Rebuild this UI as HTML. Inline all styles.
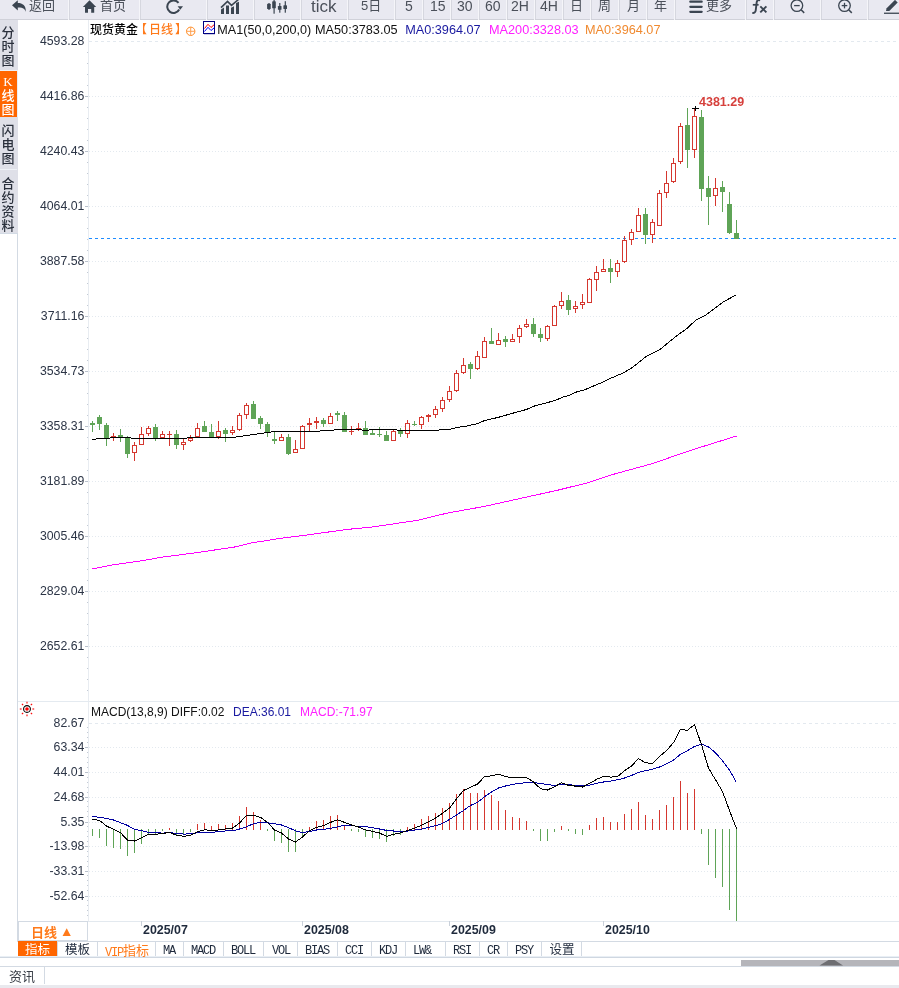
<!DOCTYPE html>
<html><head><meta charset="utf-8"><title>现货黄金 日线</title>
<style>
html,body{margin:0;padding:0;background:#fff;}
body{position:relative;width:899px;height:988px;overflow:hidden;font-family:"Liberation Sans","Noto Sans CJK SC",sans-serif;}
.a{position:absolute;white-space:nowrap;line-height:1;}
.v{font-size:13px;line-height:14px;font-weight:500;font-family:"Liberation Serif","Noto Sans CJK SC",serif;}
.m{font-family:"Liberation Mono","Noto Sans CJK SC",monospace;font-size:12px;letter-spacing:-1.2px;}
.m2{font-family:"Liberation Mono",monospace;font-size:12px;letter-spacing:-1.2px;}
</style></head><body>
<svg width="899" height="988" viewBox="0 0 899 988" style="position:absolute;left:0;top:0" shape-rendering="crispEdges"><rect x="0" y="0" width="899" height="19" fill="#e9e9f1"/><rect x="0" y="19" width="899" height="1" fill="#d0d1d9"/><rect x="68" y="0" width="1" height="20" fill="#f5f5f9"/><rect x="69" y="0" width="1" height="19" fill="#d6d7df"/><rect x="139" y="0" width="1" height="20" fill="#f5f5f9"/><rect x="140" y="0" width="1" height="19" fill="#d6d7df"/><rect x="206" y="0" width="1" height="20" fill="#f5f5f9"/><rect x="207" y="0" width="1" height="19" fill="#d6d7df"/><rect x="253" y="0" width="1" height="20" fill="#f5f5f9"/><rect x="254" y="0" width="1" height="19" fill="#d6d7df"/><rect x="300" y="0" width="1" height="20" fill="#f5f5f9"/><rect x="301" y="0" width="1" height="19" fill="#d6d7df"/><rect x="347" y="0" width="1" height="20" fill="#f5f5f9"/><rect x="348" y="0" width="1" height="19" fill="#d6d7df"/><rect x="394" y="0" width="1" height="20" fill="#f5f5f9"/><rect x="395" y="0" width="1" height="19" fill="#d6d7df"/><rect x="422" y="0" width="1" height="20" fill="#f5f5f9"/><rect x="423" y="0" width="1" height="19" fill="#d6d7df"/><rect x="450" y="0" width="1" height="20" fill="#f5f5f9"/><rect x="451" y="0" width="1" height="19" fill="#d6d7df"/><rect x="478" y="0" width="1" height="20" fill="#f5f5f9"/><rect x="479" y="0" width="1" height="19" fill="#d6d7df"/><rect x="506" y="0" width="1" height="20" fill="#f5f5f9"/><rect x="507" y="0" width="1" height="19" fill="#d6d7df"/><rect x="534" y="0" width="1" height="20" fill="#f5f5f9"/><rect x="535" y="0" width="1" height="19" fill="#d6d7df"/><rect x="562" y="0" width="1" height="20" fill="#f5f5f9"/><rect x="563" y="0" width="1" height="19" fill="#d6d7df"/><rect x="590" y="0" width="1" height="20" fill="#f5f5f9"/><rect x="591" y="0" width="1" height="19" fill="#d6d7df"/><rect x="618" y="0" width="1" height="20" fill="#f5f5f9"/><rect x="619" y="0" width="1" height="19" fill="#d6d7df"/><rect x="646" y="0" width="1" height="20" fill="#f5f5f9"/><rect x="647" y="0" width="1" height="19" fill="#d6d7df"/><rect x="674" y="0" width="1" height="20" fill="#f5f5f9"/><rect x="675" y="0" width="1" height="19" fill="#d6d7df"/><rect x="745" y="0" width="1" height="20" fill="#f5f5f9"/><rect x="746" y="0" width="1" height="19" fill="#d6d7df"/><rect x="773" y="0" width="1" height="20" fill="#f5f5f9"/><rect x="774" y="0" width="1" height="19" fill="#d6d7df"/><rect x="820" y="0" width="1" height="20" fill="#f5f5f9"/><rect x="821" y="0" width="1" height="19" fill="#d6d7df"/><rect x="867" y="0" width="1" height="20" fill="#f5f5f9"/><rect x="868" y="0" width="1" height="19" fill="#d6d7df"/><rect x="0" y="20" width="18" height="214" fill="#dfe0e8"/><rect x="0" y="70" width="18" height="1" fill="#eef1f6"/><rect x="0" y="71" width="17" height="46" fill="#ff6600"/><rect x="17" y="71" width="1" height="46" fill="#e8eef6"/><rect x="0" y="169" width="17" height="1" fill="#eef1f6"/><rect x="0" y="233" width="18" height="1" fill="#d3dbe5"/><rect x="17" y="234" width="1" height="707" fill="#d3dae3"/><rect x="88" y="20" width="1" height="901" fill="#e8ecf1"/><line x1="89" y1="41.5" x2="899" y2="41.5" stroke="#e3e9ef" stroke-width="1" stroke-dasharray="3 3"/><rect x="85" y="96" width="3" height="1" fill="#b9c1cc"/><line x1="89" y1="96.5" x2="899" y2="96.5" stroke="#e3e9ef" stroke-width="1" stroke-dasharray="1 2"/><rect x="85" y="151" width="3" height="1" fill="#b9c1cc"/><line x1="89" y1="151.5" x2="899" y2="151.5" stroke="#e3e9ef" stroke-width="1" stroke-dasharray="1 2"/><rect x="85" y="206" width="3" height="1" fill="#b9c1cc"/><line x1="89" y1="206.5" x2="899" y2="206.5" stroke="#e3e9ef" stroke-width="1" stroke-dasharray="1 2"/><rect x="85" y="261" width="3" height="1" fill="#b9c1cc"/><line x1="89" y1="261.5" x2="899" y2="261.5" stroke="#e3e9ef" stroke-width="1" stroke-dasharray="1 2"/><rect x="85" y="316" width="3" height="1" fill="#b9c1cc"/><line x1="89" y1="316.5" x2="899" y2="316.5" stroke="#e3e9ef" stroke-width="1" stroke-dasharray="1 2"/><rect x="85" y="371" width="3" height="1" fill="#b9c1cc"/><line x1="89" y1="371.5" x2="899" y2="371.5" stroke="#e3e9ef" stroke-width="1" stroke-dasharray="1 2"/><rect x="85" y="426" width="3" height="1" fill="#b9c1cc"/><line x1="89" y1="426.5" x2="899" y2="426.5" stroke="#e3e9ef" stroke-width="1" stroke-dasharray="1 2"/><rect x="85" y="481" width="3" height="1" fill="#b9c1cc"/><line x1="89" y1="481.5" x2="899" y2="481.5" stroke="#e3e9ef" stroke-width="1" stroke-dasharray="1 2"/><rect x="85" y="536" width="3" height="1" fill="#b9c1cc"/><line x1="89" y1="536.5" x2="899" y2="536.5" stroke="#e3e9ef" stroke-width="1" stroke-dasharray="1 2"/><rect x="85" y="591" width="3" height="1" fill="#b9c1cc"/><line x1="89" y1="591.5" x2="899" y2="591.5" stroke="#e3e9ef" stroke-width="1" stroke-dasharray="1 2"/><rect x="85" y="646" width="3" height="1" fill="#b9c1cc"/><line x1="89" y1="646.5" x2="899" y2="646.5" stroke="#e3e9ef" stroke-width="1" stroke-dasharray="1 2"/><rect x="87" y="52" width="1" height="1" fill="#c3cad4"/><rect x="87" y="63" width="1" height="1" fill="#c3cad4"/><rect x="87" y="74" width="1" height="1" fill="#c3cad4"/><rect x="87" y="85" width="1" height="1" fill="#c3cad4"/><rect x="87" y="107" width="1" height="1" fill="#c3cad4"/><rect x="87" y="118" width="1" height="1" fill="#c3cad4"/><rect x="87" y="129" width="1" height="1" fill="#c3cad4"/><rect x="87" y="140" width="1" height="1" fill="#c3cad4"/><rect x="87" y="162" width="1" height="1" fill="#c3cad4"/><rect x="87" y="173" width="1" height="1" fill="#c3cad4"/><rect x="87" y="184" width="1" height="1" fill="#c3cad4"/><rect x="87" y="195" width="1" height="1" fill="#c3cad4"/><rect x="87" y="217" width="1" height="1" fill="#c3cad4"/><rect x="87" y="228" width="1" height="1" fill="#c3cad4"/><rect x="87" y="239" width="1" height="1" fill="#c3cad4"/><rect x="87" y="250" width="1" height="1" fill="#c3cad4"/><rect x="87" y="272" width="1" height="1" fill="#c3cad4"/><rect x="87" y="283" width="1" height="1" fill="#c3cad4"/><rect x="87" y="294" width="1" height="1" fill="#c3cad4"/><rect x="87" y="305" width="1" height="1" fill="#c3cad4"/><rect x="87" y="327" width="1" height="1" fill="#c3cad4"/><rect x="87" y="338" width="1" height="1" fill="#c3cad4"/><rect x="87" y="349" width="1" height="1" fill="#c3cad4"/><rect x="87" y="360" width="1" height="1" fill="#c3cad4"/><rect x="87" y="382" width="1" height="1" fill="#c3cad4"/><rect x="87" y="393" width="1" height="1" fill="#c3cad4"/><rect x="87" y="404" width="1" height="1" fill="#c3cad4"/><rect x="87" y="415" width="1" height="1" fill="#c3cad4"/><rect x="87" y="437" width="1" height="1" fill="#c3cad4"/><rect x="87" y="448" width="1" height="1" fill="#c3cad4"/><rect x="87" y="459" width="1" height="1" fill="#c3cad4"/><rect x="87" y="470" width="1" height="1" fill="#c3cad4"/><rect x="87" y="492" width="1" height="1" fill="#c3cad4"/><rect x="87" y="503" width="1" height="1" fill="#c3cad4"/><rect x="87" y="514" width="1" height="1" fill="#c3cad4"/><rect x="87" y="525" width="1" height="1" fill="#c3cad4"/><rect x="87" y="547" width="1" height="1" fill="#c3cad4"/><rect x="87" y="558" width="1" height="1" fill="#c3cad4"/><rect x="87" y="569" width="1" height="1" fill="#c3cad4"/><rect x="87" y="580" width="1" height="1" fill="#c3cad4"/><rect x="87" y="602" width="1" height="1" fill="#c3cad4"/><rect x="87" y="613" width="1" height="1" fill="#c3cad4"/><rect x="87" y="624" width="1" height="1" fill="#c3cad4"/><rect x="87" y="635" width="1" height="1" fill="#c3cad4"/><rect x="87" y="657" width="1" height="1" fill="#c3cad4"/><rect x="87" y="668" width="1" height="1" fill="#c3cad4"/><rect x="87" y="679" width="1" height="1" fill="#c3cad4"/><rect x="87" y="690" width="1" height="1" fill="#c3cad4"/><line x1="89" y1="238.5" x2="899" y2="238.5" stroke="#1e8cff" stroke-width="1" stroke-dasharray="3 3"/><rect x="92" y="421" width="1" height="11" fill="#5fa457"/><rect x="90" y="423" width="5" height="2" fill="#5fa457"/><rect x="99" y="415" width="1" height="15" fill="#5fa457"/><rect x="97" y="417" width="5" height="7" fill="#5fa457"/><rect x="106" y="423" width="1" height="23" fill="#5fa457"/><rect x="104" y="425" width="5" height="13" fill="#5fa457"/><rect x="113" y="433" width="1" height="3" fill="#d5372f"/><rect x="113" y="438" width="1" height="3" fill="#d5372f"/><rect x="111" y="436" width="5" height="2" fill="#d5372f"/><rect x="120" y="429" width="1" height="13" fill="#5fa457"/><rect x="118" y="435" width="5" height="2" fill="#5fa457"/><rect x="127" y="436" width="1" height="22" fill="#5fa457"/><rect x="125" y="437" width="5" height="17" fill="#5fa457"/><rect x="134" y="442" width="1" height="3" fill="#d5372f"/><rect x="134" y="453" width="1" height="8" fill="#d5372f"/><rect x="132" y="445" width="5" height="8" fill="#d5372f"/><rect x="133" y="446" width="3" height="6" fill="#fff"/><rect x="141" y="427" width="1" height="7" fill="#d5372f"/><rect x="139" y="434" width="5" height="11" fill="#d5372f"/><rect x="140" y="435" width="3" height="9" fill="#fff"/><rect x="148" y="426" width="1" height="2" fill="#d5372f"/><rect x="148" y="434" width="1" height="2" fill="#d5372f"/><rect x="146" y="428" width="5" height="6" fill="#d5372f"/><rect x="147" y="429" width="3" height="4" fill="#fff"/><rect x="155" y="424" width="1" height="17" fill="#5fa457"/><rect x="153" y="427" width="5" height="11" fill="#5fa457"/><rect x="162" y="431" width="1" height="3" fill="#d5372f"/><rect x="160" y="434" width="5" height="4" fill="#d5372f"/><rect x="161" y="435" width="3" height="2" fill="#fff"/><rect x="169" y="431" width="1" height="3" fill="#d5372f"/><rect x="169" y="435" width="1" height="11" fill="#d5372f"/><rect x="167" y="434" width="5" height="1" fill="#d5372f"/><rect x="176" y="430" width="1" height="19" fill="#5fa457"/><rect x="174" y="434" width="5" height="11" fill="#5fa457"/><rect x="183" y="439" width="1" height="3" fill="#d5372f"/><rect x="183" y="445" width="1" height="5" fill="#d5372f"/><rect x="181" y="442" width="5" height="3" fill="#d5372f"/><rect x="182" y="443" width="3" height="1" fill="#fff"/><rect x="190" y="435" width="1" height="3" fill="#d5372f"/><rect x="190" y="441" width="1" height="1" fill="#d5372f"/><rect x="188" y="438" width="5" height="3" fill="#d5372f"/><rect x="189" y="439" width="3" height="1" fill="#fff"/><rect x="197" y="423" width="1" height="5" fill="#d5372f"/><rect x="195" y="428" width="5" height="9" fill="#d5372f"/><rect x="196" y="429" width="3" height="7" fill="#fff"/><rect x="204" y="421" width="1" height="11" fill="#5fa457"/><rect x="202" y="426" width="5" height="6" fill="#5fa457"/><rect x="211" y="424" width="1" height="13" fill="#5fa457"/><rect x="209" y="432" width="5" height="5" fill="#5fa457"/><rect x="218" y="421" width="1" height="10" fill="#d5372f"/><rect x="218" y="437" width="1" height="2" fill="#d5372f"/><rect x="216" y="431" width="5" height="6" fill="#d5372f"/><rect x="217" y="432" width="3" height="4" fill="#fff"/><rect x="225" y="428" width="1" height="14" fill="#5fa457"/><rect x="223" y="430" width="5" height="4" fill="#5fa457"/><rect x="232" y="426" width="1" height="4" fill="#d5372f"/><rect x="232" y="433" width="1" height="2" fill="#d5372f"/><rect x="230" y="430" width="5" height="3" fill="#d5372f"/><rect x="231" y="431" width="3" height="1" fill="#fff"/><rect x="239" y="413" width="1" height="2" fill="#d5372f"/><rect x="239" y="430" width="1" height="1" fill="#d5372f"/><rect x="237" y="415" width="5" height="15" fill="#d5372f"/><rect x="238" y="416" width="3" height="13" fill="#fff"/><rect x="246" y="403" width="1" height="2" fill="#d5372f"/><rect x="246" y="415" width="1" height="4" fill="#d5372f"/><rect x="244" y="405" width="5" height="10" fill="#d5372f"/><rect x="245" y="406" width="3" height="8" fill="#fff"/><rect x="253" y="401" width="1" height="18" fill="#5fa457"/><rect x="251" y="404" width="5" height="15" fill="#5fa457"/><rect x="260" y="416" width="1" height="13" fill="#5fa457"/><rect x="258" y="418" width="5" height="6" fill="#5fa457"/><rect x="267" y="422" width="1" height="15" fill="#5fa457"/><rect x="265" y="424" width="5" height="9" fill="#5fa457"/><rect x="274" y="431" width="1" height="13" fill="#5fa457"/><rect x="272" y="439" width="5" height="2" fill="#5fa457"/><rect x="281" y="434" width="1" height="3" fill="#d5372f"/><rect x="279" y="437" width="5" height="4" fill="#d5372f"/><rect x="280" y="438" width="3" height="2" fill="#fff"/><rect x="288" y="434" width="1" height="21" fill="#5fa457"/><rect x="286" y="437" width="5" height="17" fill="#5fa457"/><rect x="295" y="440" width="1" height="9" fill="#d5372f"/><rect x="293" y="449" width="5" height="4" fill="#d5372f"/><rect x="294" y="450" width="3" height="2" fill="#fff"/><rect x="302" y="425" width="1" height="1" fill="#d5372f"/><rect x="300" y="426" width="5" height="23" fill="#d5372f"/><rect x="301" y="427" width="3" height="21" fill="#fff"/><rect x="309" y="418" width="1" height="5" fill="#d5372f"/><rect x="309" y="425" width="1" height="6" fill="#d5372f"/><rect x="307" y="423" width="5" height="2" fill="#d5372f"/><rect x="316" y="417" width="1" height="4" fill="#d5372f"/><rect x="316" y="423" width="1" height="6" fill="#d5372f"/><rect x="314" y="421" width="5" height="2" fill="#d5372f"/><rect x="323" y="418" width="1" height="9" fill="#5fa457"/><rect x="321" y="420" width="5" height="4" fill="#5fa457"/><rect x="330" y="413" width="1" height="3" fill="#d5372f"/><rect x="328" y="416" width="5" height="8" fill="#d5372f"/><rect x="329" y="417" width="3" height="6" fill="#fff"/><rect x="337" y="411" width="1" height="10" fill="#5fa457"/><rect x="335" y="413" width="5" height="2" fill="#5fa457"/><rect x="344" y="412" width="1" height="20" fill="#5fa457"/><rect x="342" y="415" width="5" height="17" fill="#5fa457"/><rect x="351" y="426" width="1" height="5" fill="#d5372f"/><rect x="351" y="432" width="1" height="3" fill="#d5372f"/><rect x="349" y="431" width="5" height="1" fill="#d5372f"/><rect x="358" y="423" width="1" height="5" fill="#d5372f"/><rect x="358" y="429" width="1" height="2" fill="#d5372f"/><rect x="356" y="428" width="5" height="1" fill="#d5372f"/><rect x="365" y="421" width="1" height="14" fill="#5fa457"/><rect x="363" y="428" width="5" height="7" fill="#5fa457"/><rect x="372" y="430" width="1" height="5" fill="#5fa457"/><rect x="370" y="433" width="5" height="2" fill="#5fa457"/><rect x="379" y="427" width="1" height="10" fill="#5fa457"/><rect x="377" y="434" width="5" height="1" fill="#5fa457"/><rect x="386" y="431" width="1" height="10" fill="#5fa457"/><rect x="384" y="435" width="5" height="6" fill="#5fa457"/><rect x="393" y="430" width="1" height="1" fill="#d5372f"/><rect x="391" y="431" width="5" height="10" fill="#d5372f"/><rect x="392" y="432" width="3" height="8" fill="#fff"/><rect x="400" y="428" width="1" height="9" fill="#5fa457"/><rect x="398" y="431" width="5" height="3" fill="#5fa457"/><rect x="407" y="420" width="1" height="3" fill="#d5372f"/><rect x="407" y="434" width="1" height="4" fill="#d5372f"/><rect x="405" y="423" width="5" height="11" fill="#d5372f"/><rect x="406" y="424" width="3" height="9" fill="#fff"/><rect x="414" y="421" width="1" height="5" fill="#5fa457"/><rect x="412" y="424" width="5" height="1" fill="#5fa457"/><rect x="421" y="416" width="1" height="1" fill="#d5372f"/><rect x="421" y="425" width="1" height="4" fill="#d5372f"/><rect x="419" y="417" width="5" height="8" fill="#d5372f"/><rect x="420" y="418" width="3" height="6" fill="#fff"/><rect x="428" y="414" width="1" height="1" fill="#d5372f"/><rect x="428" y="417" width="1" height="5" fill="#d5372f"/><rect x="426" y="415" width="5" height="2" fill="#d5372f"/><rect x="435" y="406" width="1" height="3" fill="#d5372f"/><rect x="435" y="415" width="1" height="3" fill="#d5372f"/><rect x="433" y="409" width="5" height="6" fill="#d5372f"/><rect x="434" y="410" width="3" height="4" fill="#fff"/><rect x="442" y="397" width="1" height="3" fill="#d5372f"/><rect x="442" y="409" width="1" height="3" fill="#d5372f"/><rect x="440" y="400" width="5" height="9" fill="#d5372f"/><rect x="441" y="401" width="3" height="7" fill="#fff"/><rect x="449" y="386" width="1" height="5" fill="#d5372f"/><rect x="449" y="400" width="1" height="2" fill="#d5372f"/><rect x="447" y="391" width="5" height="9" fill="#d5372f"/><rect x="448" y="392" width="3" height="7" fill="#fff"/><rect x="456" y="370" width="1" height="3" fill="#d5372f"/><rect x="456" y="391" width="1" height="1" fill="#d5372f"/><rect x="454" y="373" width="5" height="18" fill="#d5372f"/><rect x="455" y="374" width="3" height="16" fill="#fff"/><rect x="463" y="358" width="1" height="7" fill="#d5372f"/><rect x="463" y="373" width="1" height="1" fill="#d5372f"/><rect x="461" y="365" width="5" height="8" fill="#d5372f"/><rect x="462" y="366" width="3" height="6" fill="#fff"/><rect x="470" y="362" width="1" height="17" fill="#5fa457"/><rect x="468" y="364" width="5" height="5" fill="#5fa457"/><rect x="477" y="351" width="1" height="5" fill="#d5372f"/><rect x="477" y="369" width="1" height="1" fill="#d5372f"/><rect x="475" y="356" width="5" height="13" fill="#d5372f"/><rect x="476" y="357" width="3" height="11" fill="#fff"/><rect x="484" y="337" width="1" height="4" fill="#d5372f"/><rect x="482" y="341" width="5" height="17" fill="#d5372f"/><rect x="483" y="342" width="3" height="15" fill="#fff"/><rect x="491" y="328" width="1" height="16" fill="#5fa457"/><rect x="489" y="341" width="5" height="3" fill="#5fa457"/><rect x="498" y="333" width="1" height="7" fill="#d5372f"/><rect x="496" y="340" width="5" height="5" fill="#d5372f"/><rect x="497" y="341" width="3" height="3" fill="#fff"/><rect x="505" y="336" width="1" height="11" fill="#5fa457"/><rect x="503" y="339" width="5" height="3" fill="#5fa457"/><rect x="512" y="334" width="1" height="5" fill="#d5372f"/><rect x="510" y="339" width="5" height="3" fill="#d5372f"/><rect x="511" y="340" width="3" height="1" fill="#fff"/><rect x="519" y="325" width="1" height="3" fill="#d5372f"/><rect x="519" y="337" width="1" height="6" fill="#d5372f"/><rect x="517" y="328" width="5" height="9" fill="#d5372f"/><rect x="518" y="329" width="3" height="7" fill="#fff"/><rect x="526" y="319" width="1" height="5" fill="#d5372f"/><rect x="526" y="327" width="1" height="1" fill="#d5372f"/><rect x="524" y="324" width="5" height="3" fill="#d5372f"/><rect x="525" y="325" width="3" height="1" fill="#fff"/><rect x="533" y="318" width="1" height="19" fill="#5fa457"/><rect x="531" y="324" width="5" height="10" fill="#5fa457"/><rect x="540" y="328" width="1" height="14" fill="#5fa457"/><rect x="538" y="334" width="5" height="4" fill="#5fa457"/><rect x="547" y="325" width="1" height="1" fill="#d5372f"/><rect x="547" y="339" width="1" height="2" fill="#d5372f"/><rect x="545" y="326" width="5" height="13" fill="#d5372f"/><rect x="546" y="327" width="3" height="11" fill="#fff"/><rect x="554" y="305" width="1" height="1" fill="#d5372f"/><rect x="552" y="306" width="5" height="20" fill="#d5372f"/><rect x="553" y="307" width="3" height="18" fill="#fff"/><rect x="561" y="292" width="1" height="9" fill="#d5372f"/><rect x="561" y="306" width="1" height="3" fill="#d5372f"/><rect x="559" y="301" width="5" height="5" fill="#d5372f"/><rect x="560" y="302" width="3" height="3" fill="#fff"/><rect x="568" y="295" width="1" height="20" fill="#5fa457"/><rect x="566" y="300" width="5" height="10" fill="#5fa457"/><rect x="575" y="301" width="1" height="5" fill="#d5372f"/><rect x="575" y="309" width="1" height="4" fill="#d5372f"/><rect x="573" y="306" width="5" height="3" fill="#d5372f"/><rect x="574" y="307" width="3" height="1" fill="#fff"/><rect x="582" y="294" width="1" height="8" fill="#d5372f"/><rect x="582" y="305" width="1" height="4" fill="#d5372f"/><rect x="580" y="302" width="5" height="3" fill="#d5372f"/><rect x="581" y="303" width="3" height="1" fill="#fff"/><rect x="589" y="278" width="1" height="1" fill="#d5372f"/><rect x="587" y="279" width="5" height="24" fill="#d5372f"/><rect x="588" y="280" width="3" height="22" fill="#fff"/><rect x="596" y="266" width="1" height="6" fill="#d5372f"/><rect x="596" y="280" width="1" height="11" fill="#d5372f"/><rect x="594" y="272" width="5" height="8" fill="#d5372f"/><rect x="595" y="273" width="3" height="6" fill="#fff"/><rect x="603" y="259" width="1" height="10" fill="#d5372f"/><rect x="601" y="269" width="5" height="3" fill="#d5372f"/><rect x="602" y="270" width="3" height="1" fill="#fff"/><rect x="610" y="259" width="1" height="24" fill="#5fa457"/><rect x="608" y="268" width="5" height="4" fill="#5fa457"/><rect x="617" y="260" width="1" height="3" fill="#d5372f"/><rect x="617" y="272" width="1" height="5" fill="#d5372f"/><rect x="615" y="263" width="5" height="9" fill="#d5372f"/><rect x="616" y="264" width="3" height="7" fill="#fff"/><rect x="624" y="236" width="1" height="4" fill="#d5372f"/><rect x="624" y="262" width="1" height="1" fill="#d5372f"/><rect x="622" y="240" width="5" height="22" fill="#d5372f"/><rect x="623" y="241" width="3" height="20" fill="#fff"/><rect x="631" y="229" width="1" height="3" fill="#d5372f"/><rect x="631" y="240" width="1" height="5" fill="#d5372f"/><rect x="629" y="232" width="5" height="8" fill="#d5372f"/><rect x="630" y="233" width="3" height="6" fill="#fff"/><rect x="638" y="208" width="1" height="7" fill="#d5372f"/><rect x="636" y="215" width="5" height="17" fill="#d5372f"/><rect x="637" y="216" width="3" height="15" fill="#fff"/><rect x="645" y="208" width="1" height="36" fill="#5fa457"/><rect x="643" y="214" width="5" height="21" fill="#5fa457"/><rect x="652" y="219" width="1" height="3" fill="#d5372f"/><rect x="652" y="235" width="1" height="8" fill="#d5372f"/><rect x="650" y="222" width="5" height="13" fill="#d5372f"/><rect x="651" y="223" width="3" height="11" fill="#fff"/><rect x="659" y="190" width="1" height="3" fill="#d5372f"/><rect x="657" y="193" width="5" height="33" fill="#d5372f"/><rect x="658" y="194" width="3" height="31" fill="#fff"/><rect x="666" y="171" width="1" height="12" fill="#d5372f"/><rect x="666" y="193" width="1" height="5" fill="#d5372f"/><rect x="664" y="183" width="5" height="10" fill="#d5372f"/><rect x="665" y="184" width="3" height="8" fill="#fff"/><rect x="673" y="158" width="1" height="5" fill="#d5372f"/><rect x="673" y="182" width="1" height="1" fill="#d5372f"/><rect x="671" y="163" width="5" height="19" fill="#d5372f"/><rect x="672" y="164" width="3" height="17" fill="#fff"/><rect x="680" y="123" width="1" height="3" fill="#d5372f"/><rect x="680" y="162" width="1" height="2" fill="#d5372f"/><rect x="678" y="126" width="5" height="36" fill="#d5372f"/><rect x="679" y="127" width="3" height="34" fill="#fff"/><rect x="687" y="108" width="1" height="60" fill="#5fa457"/><rect x="685" y="125" width="5" height="25" fill="#5fa457"/><rect x="694" y="108" width="1" height="8" fill="#d5372f"/><rect x="694" y="150" width="1" height="8" fill="#d5372f"/><rect x="692" y="116" width="5" height="34" fill="#d5372f"/><rect x="693" y="117" width="3" height="32" fill="#fff"/><rect x="701" y="110" width="1" height="91" fill="#5fa457"/><rect x="699" y="117" width="5" height="72" fill="#5fa457"/><rect x="708" y="176" width="1" height="49" fill="#5fa457"/><rect x="706" y="188" width="5" height="9" fill="#5fa457"/><rect x="715" y="178" width="1" height="10" fill="#d5372f"/><rect x="715" y="196" width="1" height="10" fill="#d5372f"/><rect x="713" y="188" width="5" height="8" fill="#d5372f"/><rect x="714" y="189" width="3" height="6" fill="#fff"/><rect x="722" y="181" width="1" height="31" fill="#5fa457"/><rect x="720" y="187" width="5" height="5" fill="#5fa457"/><rect x="729" y="192" width="1" height="42" fill="#5fa457"/><rect x="727" y="204" width="5" height="29" fill="#5fa457"/><rect x="736" y="220" width="1" height="19" fill="#5fa457"/><rect x="734" y="233" width="5" height="6" fill="#5fa457"/><polyline points="92.5,568.9 110.5,565.3 143.5,560.5 161.9,557.2 198.6,552.4 235.3,546.9 250.0,543.2 279.4,538.5 308.8,534.8 345.5,529.6 374.8,526.7 404.2,522.3 418.5,520.1 447.2,513.1 483.9,506.5 520.6,498.4 557.3,490.3 586.7,483.0 616.1,473.5 652.8,463.5 689.5,450.7 718.9,441.5 736.5,436.0" fill="none" stroke="#ff00ff" stroke-width="1" shape-rendering="crispEdges"/><rect x="92" y="439" width="4" height="1" fill="#000"/><rect x="96" y="438" width="14" height="1" fill="#000"/><rect x="110" y="437" width="21" height="1" fill="#000"/><rect x="131" y="438" width="56" height="1" fill="#000"/><rect x="187" y="437" width="49" height="1" fill="#000"/><rect x="236" y="436" width="7" height="1" fill="#000"/><rect x="243" y="435" width="7" height="1" fill="#000"/><rect x="250" y="434" width="7" height="1" fill="#000"/><rect x="257" y="433" width="7" height="1" fill="#000"/><rect x="264" y="432" width="7" height="1" fill="#000"/><rect x="271" y="431" width="49" height="1" fill="#000"/><rect x="320" y="430" width="14" height="1" fill="#000"/><rect x="334" y="429" width="28" height="1" fill="#000"/><rect x="362" y="430" width="7" height="1" fill="#000"/><rect x="369" y="429" width="28" height="1" fill="#000"/><rect x="397" y="430" width="42" height="1" fill="#000"/><rect x="439" y="429" width="12" height="1" fill="#000"/><rect x="451" y="428" width="4" height="1" fill="#000"/><rect x="455" y="427" width="5" height="1" fill="#000"/><rect x="460" y="426" width="5" height="1" fill="#000"/><polyline points="465.0,426.5 478.6,423.3 484.9,420.4 498.2,417.4 512.5,413.3 526.7,409.4 533.8,406.2 555.1,400.5 562.3,397.3 569.4,395.2 576.5,392.0 583.6,390.2 590.7,387.2 601.4,382.7 610.5,378.4 623.0,373.0 632.3,367.6 646.3,356.3 660.3,349.2 675.9,336.4 686.8,328.6 695.4,320.5 705.5,315.4 722.6,302.4 736.5,294.6" fill="none" stroke="#000000" stroke-width="1" shape-rendering="crispEdges"/><rect x="692" y="108" width="7" height="1" fill="#000"/><rect x="695" y="106" width="1" height="5" fill="#000"/><rect x="18" y="701" width="881" height="1" fill="#e4eaf0"/><line x1="89" y1="723.5" x2="899" y2="723.5" stroke="#e3e9ef" stroke-width="1" stroke-dasharray="3 3"/><rect x="85" y="747" width="3" height="1" fill="#b9c1cc"/><line x1="89" y1="747.5" x2="899" y2="747.5" stroke="#e3e9ef" stroke-width="1" stroke-dasharray="1 2"/><rect x="85" y="772" width="3" height="1" fill="#b9c1cc"/><line x1="89" y1="772.5" x2="899" y2="772.5" stroke="#e3e9ef" stroke-width="1" stroke-dasharray="1 2"/><rect x="85" y="797" width="3" height="1" fill="#b9c1cc"/><line x1="89" y1="797.5" x2="899" y2="797.5" stroke="#e3e9ef" stroke-width="1" stroke-dasharray="1 2"/><rect x="85" y="822" width="3" height="1" fill="#b9c1cc"/><line x1="89" y1="822.5" x2="899" y2="822.5" stroke="#e3e9ef" stroke-width="1" stroke-dasharray="1 2"/><rect x="85" y="846" width="3" height="1" fill="#b9c1cc"/><line x1="89" y1="846.5" x2="899" y2="846.5" stroke="#e3e9ef" stroke-width="1" stroke-dasharray="1 2"/><rect x="85" y="871" width="3" height="1" fill="#b9c1cc"/><line x1="89" y1="871.5" x2="899" y2="871.5" stroke="#e3e9ef" stroke-width="1" stroke-dasharray="1 2"/><rect x="85" y="896" width="3" height="1" fill="#b9c1cc"/><line x1="89" y1="896.5" x2="899" y2="896.5" stroke="#e3e9ef" stroke-width="1" stroke-dasharray="1 2"/><rect x="87" y="727" width="1" height="1" fill="#c3cad4"/><rect x="87" y="732" width="1" height="1" fill="#c3cad4"/><rect x="87" y="737" width="1" height="1" fill="#c3cad4"/><rect x="87" y="742" width="1" height="1" fill="#c3cad4"/><rect x="87" y="752" width="1" height="1" fill="#c3cad4"/><rect x="87" y="757" width="1" height="1" fill="#c3cad4"/><rect x="87" y="762" width="1" height="1" fill="#c3cad4"/><rect x="87" y="767" width="1" height="1" fill="#c3cad4"/><rect x="87" y="777" width="1" height="1" fill="#c3cad4"/><rect x="87" y="782" width="1" height="1" fill="#c3cad4"/><rect x="87" y="787" width="1" height="1" fill="#c3cad4"/><rect x="87" y="792" width="1" height="1" fill="#c3cad4"/><rect x="87" y="801" width="1" height="1" fill="#c3cad4"/><rect x="87" y="806" width="1" height="1" fill="#c3cad4"/><rect x="87" y="811" width="1" height="1" fill="#c3cad4"/><rect x="87" y="816" width="1" height="1" fill="#c3cad4"/><rect x="87" y="826" width="1" height="1" fill="#c3cad4"/><rect x="87" y="831" width="1" height="1" fill="#c3cad4"/><rect x="87" y="836" width="1" height="1" fill="#c3cad4"/><rect x="87" y="841" width="1" height="1" fill="#c3cad4"/><rect x="87" y="851" width="1" height="1" fill="#c3cad4"/><rect x="87" y="856" width="1" height="1" fill="#c3cad4"/><rect x="87" y="861" width="1" height="1" fill="#c3cad4"/><rect x="87" y="866" width="1" height="1" fill="#c3cad4"/><rect x="87" y="875" width="1" height="1" fill="#c3cad4"/><rect x="87" y="880" width="1" height="1" fill="#c3cad4"/><rect x="87" y="885" width="1" height="1" fill="#c3cad4"/><rect x="87" y="890" width="1" height="1" fill="#c3cad4"/><rect x="87" y="900" width="1" height="1" fill="#c3cad4"/><rect x="87" y="905" width="1" height="1" fill="#c3cad4"/><rect x="87" y="910" width="1" height="1" fill="#c3cad4"/><rect x="87" y="915" width="1" height="1" fill="#c3cad4"/><rect x="92" y="829" width="1" height="7" fill="#5fa457"/><rect x="99" y="829" width="1" height="9" fill="#5fa457"/><rect x="106" y="829" width="1" height="17" fill="#5fa457"/><rect x="113" y="829" width="1" height="19" fill="#5fa457"/><rect x="120" y="829" width="1" height="20" fill="#5fa457"/><rect x="127" y="829" width="1" height="27" fill="#5fa457"/><rect x="134" y="829" width="1" height="24" fill="#5fa457"/><rect x="141" y="829" width="1" height="15" fill="#5fa457"/><rect x="148" y="829" width="1" height="5" fill="#5fa457"/><rect x="155" y="829" width="1" height="5" fill="#5fa457"/><rect x="162" y="829" width="1" height="2" fill="#5fa457"/><rect x="169" y="828" width="1" height="2" fill="#d5372f"/><rect x="176" y="829" width="1" height="6" fill="#5fa457"/><rect x="183" y="829" width="1" height="6" fill="#5fa457"/><rect x="190" y="829" width="1" height="3" fill="#5fa457"/><rect x="197" y="824" width="1" height="6" fill="#d5372f"/><rect x="204" y="823" width="1" height="7" fill="#d5372f"/><rect x="211" y="826" width="1" height="4" fill="#d5372f"/><rect x="218" y="824" width="1" height="6" fill="#d5372f"/><rect x="225" y="825" width="1" height="5" fill="#d5372f"/><rect x="232" y="823" width="1" height="7" fill="#d5372f"/><rect x="239" y="816" width="1" height="14" fill="#d5372f"/><rect x="246" y="807" width="1" height="23" fill="#d5372f"/><rect x="253" y="812" width="1" height="18" fill="#d5372f"/><rect x="260" y="820" width="1" height="10" fill="#d5372f"/><rect x="267" y="829" width="1" height="2" fill="#5fa457"/><rect x="274" y="829" width="1" height="12" fill="#5fa457"/><rect x="281" y="829" width="1" height="14" fill="#5fa457"/><rect x="288" y="829" width="1" height="23" fill="#5fa457"/><rect x="295" y="829" width="1" height="23" fill="#5fa457"/><rect x="302" y="829" width="1" height="8" fill="#5fa457"/><rect x="309" y="827" width="1" height="3" fill="#d5372f"/><rect x="316" y="821" width="1" height="9" fill="#d5372f"/><rect x="323" y="820" width="1" height="10" fill="#d5372f"/><rect x="330" y="816" width="1" height="14" fill="#d5372f"/><rect x="337" y="815" width="1" height="15" fill="#d5372f"/><rect x="344" y="825" width="1" height="5" fill="#d5372f"/><rect x="351" y="829" width="1" height="2" fill="#5fa457"/><rect x="358" y="829" width="1" height="3" fill="#5fa457"/><rect x="365" y="829" width="1" height="8" fill="#5fa457"/><rect x="372" y="829" width="1" height="9" fill="#5fa457"/><rect x="379" y="829" width="1" height="10" fill="#5fa457"/><rect x="386" y="829" width="1" height="13" fill="#5fa457"/><rect x="393" y="829" width="1" height="7" fill="#5fa457"/><rect x="400" y="829" width="1" height="6" fill="#5fa457"/><rect x="407" y="827" width="1" height="3" fill="#d5372f"/><rect x="414" y="824" width="1" height="6" fill="#d5372f"/><rect x="421" y="819" width="1" height="11" fill="#d5372f"/><rect x="428" y="816" width="1" height="14" fill="#d5372f"/><rect x="435" y="813" width="1" height="17" fill="#d5372f"/><rect x="442" y="808" width="1" height="22" fill="#d5372f"/><rect x="449" y="803" width="1" height="27" fill="#d5372f"/><rect x="456" y="794" width="1" height="36" fill="#d5372f"/><rect x="463" y="789" width="1" height="41" fill="#d5372f"/><rect x="470" y="793" width="1" height="37" fill="#d5372f"/><rect x="477" y="793" width="1" height="37" fill="#d5372f"/><rect x="484" y="790" width="1" height="40" fill="#d5372f"/><rect x="491" y="795" width="1" height="35" fill="#d5372f"/><rect x="498" y="801" width="1" height="29" fill="#d5372f"/><rect x="505" y="810" width="1" height="20" fill="#d5372f"/><rect x="512" y="817" width="1" height="13" fill="#d5372f"/><rect x="519" y="818" width="1" height="12" fill="#d5372f"/><rect x="526" y="821" width="1" height="9" fill="#d5372f"/><rect x="533" y="829" width="1" height="2" fill="#5fa457"/><rect x="540" y="829" width="1" height="12" fill="#5fa457"/><rect x="547" y="829" width="1" height="12" fill="#5fa457"/><rect x="554" y="829" width="1" height="3" fill="#5fa457"/><rect x="561" y="826" width="1" height="4" fill="#d5372f"/><rect x="568" y="829" width="1" height="2" fill="#5fa457"/><rect x="575" y="829" width="1" height="5" fill="#5fa457"/><rect x="582" y="829" width="1" height="6" fill="#5fa457"/><rect x="589" y="825" width="1" height="5" fill="#d5372f"/><rect x="596" y="818" width="1" height="12" fill="#d5372f"/><rect x="603" y="817" width="1" height="13" fill="#d5372f"/><rect x="610" y="822" width="1" height="8" fill="#d5372f"/><rect x="617" y="822" width="1" height="8" fill="#d5372f"/><rect x="624" y="814" width="1" height="16" fill="#d5372f"/><rect x="631" y="809" width="1" height="21" fill="#d5372f"/><rect x="638" y="802" width="1" height="28" fill="#d5372f"/><rect x="645" y="815" width="1" height="15" fill="#d5372f"/><rect x="652" y="819" width="1" height="11" fill="#d5372f"/><rect x="659" y="810" width="1" height="20" fill="#d5372f"/><rect x="666" y="805" width="1" height="25" fill="#d5372f"/><rect x="673" y="797" width="1" height="33" fill="#d5372f"/><rect x="680" y="781" width="1" height="49" fill="#d5372f"/><rect x="687" y="793" width="1" height="37" fill="#d5372f"/><rect x="694" y="789" width="1" height="41" fill="#d5372f"/><rect x="701" y="829" width="1" height="5" fill="#5fa457"/><rect x="708" y="829" width="1" height="36" fill="#5fa457"/><rect x="715" y="829" width="1" height="49" fill="#5fa457"/><rect x="722" y="829" width="1" height="58" fill="#5fa457"/><rect x="729" y="829" width="1" height="81" fill="#5fa457"/><rect x="736" y="829" width="1" height="92" fill="#5fa457"/><polyline points="92.5,816.3 99.5,817.4 106.5,818.3 113.5,820.0 120.5,822.7 127.5,825.4 134.5,829.4 141.5,830.7 148.5,832.5 155.5,832.7 162.5,833.1 169.5,832.7 176.5,833.4 183.5,834.1 190.5,833.8 197.5,832.7 204.5,832.6 211.5,832.4 218.5,831.7 225.5,831.0 232.5,830.8 239.5,829.0 246.5,826.8 253.5,823.7 260.5,822.4 267.5,822.8 274.5,823.7 281.5,825.0 288.5,827.7 295.5,830.8 302.5,832.6 309.5,831.5 316.5,830.0 323.5,829.4 330.5,828.4 337.5,826.8 344.5,825.4 351.5,825.7 358.5,826.4 365.5,826.6 372.5,827.7 379.5,829.0 386.5,830.4 393.5,831.0 400.5,831.0 407.5,831.0 414.5,830.1 421.5,829.2 428.5,827.4 435.5,825.7 442.5,823.4 449.5,819.4 456.5,815.0 463.5,810.5 470.5,805.4 477.5,802.5 484.5,796.7 491.5,792.0 498.5,788.0 505.5,786.0 512.5,784.3 519.5,783.4 526.5,782.5 533.5,782.5 540.5,783.4 547.5,784.7 554.5,785.4 561.5,784.7 568.5,784.7 575.5,785.4 582.5,785.7 589.5,785.1 596.5,783.4 603.5,782.0 610.5,781.1 617.5,779.8 624.5,778.0 631.5,775.4 638.5,772.5 645.5,770.7 652.5,769.2 659.5,767.0 666.5,763.9 673.5,760.0 680.5,754.3 687.5,750.7 694.5,746.4 701.5,744.1 708.5,746.9 715.5,752.8 722.5,760.7 729.5,770.2 736.5,782.5" fill="none" stroke="#0000a0" stroke-width="1" shape-rendering="crispEdges"/><polyline points="92.5,819.1 99.5,820.4 106.5,826.0 113.5,829.4 120.5,832.7 127.5,840.0 134.5,841.0 141.5,837.8 148.5,834.3 155.5,834.3 162.5,833.4 169.5,832.5 176.5,835.1 183.5,836.3 190.5,835.4 197.5,831.7 204.5,829.8 211.5,830.4 218.5,830.0 225.5,829.0 232.5,828.1 239.5,823.0 246.5,815.3 253.5,815.3 260.5,817.4 267.5,822.4 274.5,830.0 281.5,833.0 288.5,839.0 295.5,842.0 302.5,837.0 309.5,830.5 316.5,827.5 323.5,825.7 330.5,822.4 337.5,819.7 344.5,822.4 351.5,825.0 358.5,827.0 365.5,830.0 372.5,831.3 379.5,833.0 386.5,836.4 393.5,834.4 400.5,833.0 407.5,830.4 414.5,828.1 421.5,825.4 428.5,821.7 435.5,818.1 442.5,813.4 449.5,808.1 456.5,798.7 463.5,790.4 470.5,787.4 477.5,784.0 484.5,776.7 491.5,775.8 498.5,774.4 505.5,776.3 512.5,778.0 519.5,777.4 526.5,777.5 533.5,782.0 540.5,788.7 547.5,790.0 554.5,786.7 561.5,782.7 568.5,785.4 575.5,786.1 582.5,787.0 589.5,783.4 596.5,779.4 603.5,776.3 610.5,777.1 617.5,776.7 624.5,770.7 631.5,766.0 638.5,758.6 645.5,762.8 652.5,763.4 659.5,756.4 666.5,750.7 673.5,742.6 680.5,729.4 687.5,730.3 694.5,724.6 701.5,744.7 708.5,768.1 715.5,779.8 722.5,791.5 729.5,810.6 736.5,828.6" fill="none" stroke="#000000" stroke-width="1" shape-rendering="crispEdges"/><g transform="translate(27,709)" shape-rendering="auto"><circle r="3.4" fill="none" stroke="#000" stroke-width="1.1"/><circle r="1.8" fill="#f00"/><line x1="0" y1="-5.4" x2="0" y2="-7.2" stroke="#f00" stroke-width="1.1" transform="rotate(0)"/><line x1="0" y1="-5.4" x2="0" y2="-7.2" stroke="#f00" stroke-width="1.1" transform="rotate(45)"/><line x1="0" y1="-5.4" x2="0" y2="-7.2" stroke="#f00" stroke-width="1.1" transform="rotate(90)"/><line x1="0" y1="-5.4" x2="0" y2="-7.2" stroke="#f00" stroke-width="1.1" transform="rotate(135)"/><line x1="0" y1="-5.4" x2="0" y2="-7.2" stroke="#f00" stroke-width="1.1" transform="rotate(180)"/><line x1="0" y1="-5.4" x2="0" y2="-7.2" stroke="#f00" stroke-width="1.1" transform="rotate(225)"/><line x1="0" y1="-5.4" x2="0" y2="-7.2" stroke="#f00" stroke-width="1.1" transform="rotate(270)"/><line x1="0" y1="-5.4" x2="0" y2="-7.2" stroke="#f00" stroke-width="1.1" transform="rotate(315)"/></g><rect x="18" y="921" width="881" height="1" fill="#e3e9ef"/><rect x="141" y="921" width="1" height="5" fill="#c9d0da"/><rect x="302" y="921" width="1" height="5" fill="#c9d0da"/><rect x="449" y="921" width="1" height="5" fill="#c9d0da"/><rect x="603" y="921" width="1" height="5" fill="#c9d0da"/><rect x="17" y="921" width="71" height="1" fill="#d3dae3"/><rect x="17" y="940" width="71" height="1" fill="#d3dae3"/><rect x="87" y="921" width="1" height="20" fill="#d3dae3"/><rect x="18" y="921" width="1" height="20" fill="#d3dae3"/><polygon points="62.6,936 66.7,928.2 70.8,936" fill="#ff7a1a" shape-rendering="auto"/><rect x="17" y="941" width="882" height="1" fill="#d3dae3"/><rect x="0" y="956" width="899" height="1" fill="#e9eff5"/><rect x="0" y="957" width="899" height="1" fill="#cfd7e1"/><rect x="18" y="941" width="39" height="15" fill="#ff6600"/><rect x="57" y="941" width="1" height="15" fill="#d3dae3"/><rect x="97" y="941" width="1" height="15" fill="#d3dae3"/><rect x="155" y="941" width="1" height="15" fill="#d3dae3"/><rect x="183" y="941" width="1" height="15" fill="#d3dae3"/><rect x="223" y="941" width="1" height="15" fill="#d3dae3"/><rect x="263" y="941" width="1" height="15" fill="#d3dae3"/><rect x="297" y="941" width="1" height="15" fill="#d3dae3"/><rect x="337" y="941" width="1" height="15" fill="#d3dae3"/><rect x="371" y="941" width="1" height="15" fill="#d3dae3"/><rect x="405" y="941" width="1" height="15" fill="#d3dae3"/><rect x="445" y="941" width="1" height="15" fill="#d3dae3"/><rect x="479" y="941" width="1" height="15" fill="#d3dae3"/><rect x="507" y="941" width="1" height="15" fill="#d3dae3"/><rect x="541" y="941" width="1" height="15" fill="#d3dae3"/><rect x="581" y="941" width="1" height="15" fill="#d3dae3"/><rect x="741" y="960" width="158" height="6" fill="#b5b5ba"/><polygon points="819.5,965.5 828.5,960 834.5,960 843,965.5" fill="#6e6e72" shape-rendering="auto"/><rect x="0" y="966" width="899" height="1" fill="#d3dae3"/><rect x="44" y="967" width="1" height="17" fill="#d3dae3"/><rect x="0" y="985" width="899" height="3" fill="#e9e9ee"/></svg>
<svg width="899" height="40" style="position:absolute;left:0;top:0"><path d="M12,5.3 L17.8,0.2 L17.8,3 C22.5,3 26.2,5.5 25.8,12 C25.2,9.2 23.5,7.4 17.8,7.5 L17.8,10.4 Z" fill="#3b4551"/><path d="M82.9,7 L89.5,0.3 L96.2,7 L94.2,7 L94.2,12.7 L91.2,12.7 L91.2,9 L88,9 L88,12.7 L85,12.7 L85,7 Z" fill="#3b4551"/><path d="M178.5,2.8 A6.3,6.3 0 1 0 179.2,9.5" fill="none" stroke="#3b4551" stroke-width="2"/><path d="M177.6,6.2 L183,6.2 L180.3,9.8 Z" fill="#3b4551"/><path d="M221,14 L221,9.5 L224,7.5 L224,14 Z M226,14 L226,5.4 L229,5.4 L229,14 Z M231,14 L231,7.8 L234,6.3 L234,14 Z M236,14 L236,3 L239,1.8 L239,14 Z" fill="#3b4551"/><path d="M221,7.6 L227.5,1.4 L231.5,5.4 L238.5,-0.5" fill="none" stroke="#3b4551" stroke-width="1.6"/><rect x="268.4" y="3" width="1.2" height="7" fill="#3b4551"/><rect x="267.09999999999997" y="3.7" width="3.6" height="5.3" rx="0.6" fill="#3b4551"/><rect x="273.5" y="0" width="1.2" height="13.7" fill="#3b4551"/><rect x="272.2" y="1.3" width="3.6" height="7.000000000000001" rx="0.6" fill="#3b4551"/><rect x="279.2" y="3" width="1.2" height="9.7" fill="#3b4551"/><rect x="277.9" y="6" width="3.6" height="3.8000000000000007" rx="0.6" fill="#3b4551"/><rect x="284.7" y="1.2" width="1.2" height="11.5" fill="#3b4551"/><rect x="283.4" y="5.2" width="3.6" height="3.8" rx="0.6" fill="#3b4551"/><rect x="689.2" y="0.6" width="13.6" height="2.2" rx="1.1" fill="#3b4551"/><rect x="689.2" y="5.7" width="13.6" height="2.2" rx="1.1" fill="#3b4551"/><rect x="689.2" y="10.7" width="13.6" height="2.2" rx="1.1" fill="#3b4551"/><path d="M760.2,0.4 Q757.2,-0.6 756.7,2.2 L755.7,10.6 Q755.2,13.2 752.3,12.9" fill="none" stroke="#3b4551" stroke-width="1.9"/><path d="M752.8,4.8 L758.6,4.8" stroke="#3b4551" stroke-width="1.7"/><path d="M760.3,6.3 L766.4,12.4 M766.4,6.3 L760.3,12.4" stroke="#3b4551" stroke-width="1.9"/><circle cx="796.9" cy="5.6" r="5.8" fill="none" stroke="#3b4551" stroke-width="1.3"/><path d="M801.1,9.8 L804.1999999999999,12.9" stroke="#3b4551" stroke-width="1.5"/><path d="M794.1,5.6 L799.6999999999999,5.6" stroke="#3b4551" stroke-width="1.3"/><circle cx="844.5" cy="5.6" r="5.8" fill="none" stroke="#3b4551" stroke-width="1.3"/><path d="M848.7,9.8 L851.8,12.9" stroke="#3b4551" stroke-width="1.5"/><path d="M841.7,5.6 L847.3,5.6" stroke="#3b4551" stroke-width="1.3"/><path d="M844.5,2.8 L844.5,8.4" stroke="#3b4551" stroke-width="1.3"/><path d="M886,11 L886.6,8.3 L895,-0.1 L897.7,2.6 L889.3,11 Z" fill="#3b4551"/><rect x="884" y="12.6" width="15" height="1.3" fill="#3b4551"/><rect x="203.5" y="21.5" width="11" height="12" fill="#fff" stroke="#000080" stroke-width="1"/><rect x="204" y="33" width="11" height="1.2" fill="#000080"/><polyline points="204.5,28.5 208,24.3 211,27.5 214,24.8" fill="none" stroke="#f00" stroke-width="1"/><polyline points="204.5,31.5 208,27.3 211,30.5 214,28" fill="none" stroke="#00f" stroke-width="1"/><circle cx="190.7" cy="31.3" r="4.2" fill="none" stroke="#ff8a20" stroke-width="1"/><path d="M186.5,31.3 L194.9,31.3 M190.7,27.1 L190.7,35.5" stroke="#ffa050" stroke-width="1"/></svg>
<div class="a" style="left:29px;top:-1px;font-size:13px;color:#4b505a;">返回</div><div class="a" style="left:100px;top:-1px;font-size:13px;color:#4b505a;">首页</div><div class="a" style="left:311px;top:-2px;font-size:17px;color:#4b505a;">tick</div><div class="a" style="left:361px;top:-1px;font-size:13px;color:#4b505a;">5日</div><div class="a" style="left:405px;top:-1px;font-size:14px;color:#4b505a;">5</div><div class="a" style="left:430px;top:-1px;font-size:14px;color:#4b505a;">15</div><div class="a" style="left:457px;top:-1px;font-size:14px;color:#4b505a;">30</div><div class="a" style="left:485px;top:-1px;font-size:14px;color:#4b505a;">60</div><div class="a" style="left:511px;top:-1px;font-size:14px;color:#4b505a;">2H</div><div class="a" style="left:540px;top:-1px;font-size:14px;color:#4b505a;">4H</div><div class="a" style="left:570px;top:-1px;font-size:13px;color:#4b505a;">日</div><div class="a" style="left:598px;top:-1px;font-size:13px;color:#4b505a;">周</div><div class="a" style="left:627px;top:-1px;font-size:13px;color:#4b505a;">月</div><div class="a" style="left:654px;top:-1px;font-size:13px;color:#4b505a;">年</div><div class="a" style="left:706px;top:-1px;font-size:13px;color:#4b505a;">更多</div><div class="a v" style="left:0px;width:16px;text-align:center;top:26px;color:#2a303c">分<br>时<br>图</div><div class="a v" style="left:0px;width:16px;text-align:center;top:75px;color:#fff">K<br>线<br>图</div><div class="a v" style="left:0px;width:16px;text-align:center;top:124px;color:#2a303c">闪<br>电<br>图</div><div class="a v" style="left:0px;width:16px;text-align:center;top:177px;color:#2a303c">合<br>约<br>资<br>料</div><div class="a" style="left:90px;top:24px;font-size:12px;color:#000;font-weight:500;">现货黄金</div><div class="a" style="left:135px;top:24px;font-size:12px;color:#ff7a1a;">【</div><div class="a" style="left:149px;top:24px;font-size:12px;color:#ff7a1a;font-weight:500;">日线</div><div class="a" style="left:175px;top:24px;font-size:12px;color:#ff7a1a;">】</div><div class="a" style="left:217.3px;top:24px;font-size:12.6px;color:#111;">MA1(50,0,200,0)</div><div class="a" style="left:315px;top:24px;font-size:12.7px;color:#111;">MA50:3783.05</div><div class="a" style="left:405.2px;top:24px;font-size:12.7px;color:#1a1aa0;">MA0:3964.07</div><div class="a" style="left:489px;top:24px;font-size:12.7px;color:#ff20ff;">MA200:3328.03</div><div class="a" style="left:585px;top:24px;font-size:12.7px;color:#f08a30;">MA0:3964.07</div><div class="a" style="left:4.400000000000006px;width:80px;text-align:right;top:34.8px;font-size:12.3px;color:#2c3546;">4593.28</div><div class="a" style="left:4.400000000000006px;width:80px;text-align:right;top:89.8px;font-size:12.3px;color:#2c3546;">4416.86</div><div class="a" style="left:4.400000000000006px;width:80px;text-align:right;top:144.8px;font-size:12.3px;color:#2c3546;">4240.43</div><div class="a" style="left:4.400000000000006px;width:80px;text-align:right;top:199.8px;font-size:12.3px;color:#2c3546;">4064.01</div><div class="a" style="left:4.400000000000006px;width:80px;text-align:right;top:254.8px;font-size:12.3px;color:#2c3546;">3887.58</div><div class="a" style="left:4.400000000000006px;width:80px;text-align:right;top:309.8px;font-size:12.3px;color:#2c3546;">3711.16</div><div class="a" style="left:4.400000000000006px;width:80px;text-align:right;top:364.8px;font-size:12.3px;color:#2c3546;">3534.73</div><div class="a" style="left:4.400000000000006px;width:80px;text-align:right;top:419.8px;font-size:12.3px;color:#2c3546;">3358.31</div><div class="a" style="left:4.400000000000006px;width:80px;text-align:right;top:474.8px;font-size:12.3px;color:#2c3546;">3181.89</div><div class="a" style="left:4.400000000000006px;width:80px;text-align:right;top:529.8px;font-size:12.3px;color:#2c3546;">3005.46</div><div class="a" style="left:4.400000000000006px;width:80px;text-align:right;top:584.8px;font-size:12.3px;color:#2c3546;">2829.04</div><div class="a" style="left:4.400000000000006px;width:80px;text-align:right;top:639.8px;font-size:12.3px;color:#2c3546;">2652.61</div><div class="a" style="left:699px;top:95.5px;font-size:12.5px;color:#d6403c;font-weight:bold;">4381.29</div><div class="a" style="left:91px;top:706px;font-size:12px;color:#111;">MACD(13,8,9) DIFF:0.02</div><div class="a" style="left:233px;top:706px;font-size:12px;color:#1a1aa0;">DEA:36.01</div><div class="a" style="left:300px;top:706px;font-size:12px;color:#ff20ff;">MACD:-71.97</div><div class="a" style="left:4.400000000000006px;width:80px;text-align:right;top:716.8px;font-size:12.3px;color:#2c3546;">82.67</div><div class="a" style="left:4.400000000000006px;width:80px;text-align:right;top:740.8px;font-size:12.3px;color:#2c3546;">63.34</div><div class="a" style="left:4.400000000000006px;width:80px;text-align:right;top:765.8px;font-size:12.3px;color:#2c3546;">44.01</div><div class="a" style="left:4.400000000000006px;width:80px;text-align:right;top:790.8px;font-size:12.3px;color:#2c3546;">24.68</div><div class="a" style="left:4.400000000000006px;width:80px;text-align:right;top:815.8px;font-size:12.3px;color:#2c3546;">5.35</div><div class="a" style="left:4.400000000000006px;width:80px;text-align:right;top:839.8px;font-size:12.3px;color:#2c3546;">-13.98</div><div class="a" style="left:4.400000000000006px;width:80px;text-align:right;top:864.8px;font-size:12.3px;color:#2c3546;">-33.31</div><div class="a" style="left:4.400000000000006px;width:80px;text-align:right;top:889.8px;font-size:12.3px;color:#2c3546;">-52.64</div><div class="a" style="left:143px;top:924px;font-size:12.4px;color:#1f2a3c;font-weight:bold;">2025/07</div><div class="a" style="left:304px;top:924px;font-size:12.4px;color:#1f2a3c;font-weight:bold;">2025/08</div><div class="a" style="left:451px;top:924px;font-size:12.4px;color:#1f2a3c;font-weight:bold;">2025/09</div><div class="a" style="left:605px;top:924px;font-size:12.4px;color:#1f2a3c;font-weight:bold;">2025/10</div><div class="a" style="left:31px;top:925.5px;font-size:13px;color:#ff7a1a;font-weight:bold;">日线</div><div class="a" style="left:25px;top:944px;font-size:12.5px;color:#fff;">指标</div><div class="a" style="left:65px;top:944px;font-size:12.5px;color:#1f2a3c;">模板</div><div class="a" style="left:105px;top:943.5px;font-size:13px;color:#ff7a1a;"><span class="m2" style="position:relative;top:1px">VIP</span>指标</div><div class="a m" style="left:163px;top:945px;font-size:12px;color:#1f2a3c;">MA</div><div class="a m" style="left:191px;top:945px;font-size:12px;color:#1f2a3c;">MACD</div><div class="a m" style="left:231px;top:945px;font-size:12px;color:#1f2a3c;">BOLL</div><div class="a m" style="left:272px;top:945px;font-size:12px;color:#1f2a3c;">VOL</div><div class="a m" style="left:305px;top:945px;font-size:12px;color:#1f2a3c;">BIAS</div><div class="a m" style="left:345px;top:945px;font-size:12px;color:#1f2a3c;">CCI</div><div class="a m" style="left:379px;top:945px;font-size:12px;color:#1f2a3c;">KDJ</div><div class="a m" style="left:413px;top:945px;font-size:12px;color:#1f2a3c;">LW&amp;</div><div class="a m" style="left:453px;top:945px;font-size:12px;color:#1f2a3c;">RSI</div><div class="a m" style="left:487px;top:945px;font-size:12px;color:#1f2a3c;">CR</div><div class="a m" style="left:515px;top:945px;font-size:12px;color:#1f2a3c;">PSY</div><div class="a" style="left:549.5px;top:944px;font-size:12.5px;color:#1f2a3c;">设置</div><div class="a" style="left:9px;top:970px;font-size:13px;color:#3a3f48;">资讯</div>
</body></html>
